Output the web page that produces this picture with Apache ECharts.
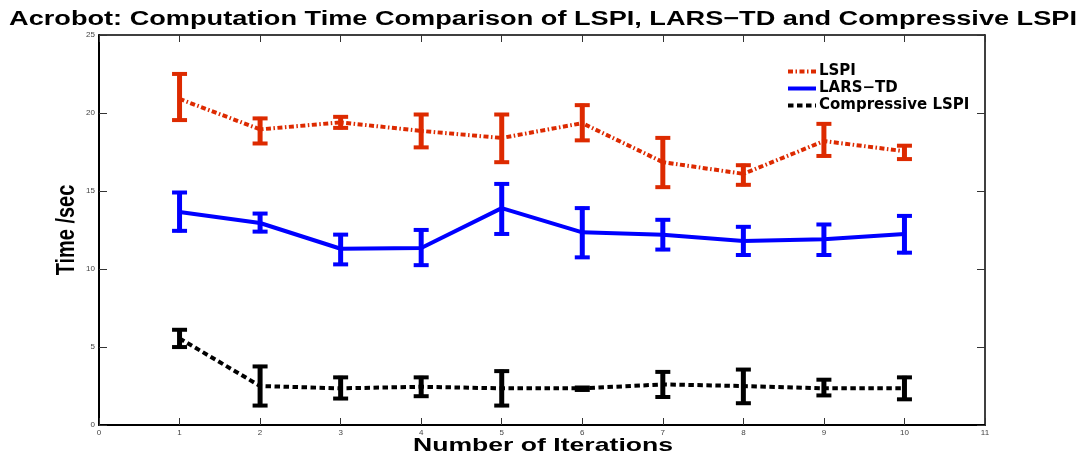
<!DOCTYPE html>
<html>
<head>
<meta charset="utf-8">
<script src="https://cdn.jsdelivr.net/npm/echarts@6/dist/echarts.min.js"></script>
<style>
  html, body { margin: 0; padding: 0; background: #fff; }
  #chart { width: 1088px; height: 460px; }
</style>
</head>
<body>
<div id="chart"></div>
<script>
// values
var iterations = [1, 2, 3, 4, 5, 6, 7, 8, 9, 10];
var xTicks = [0, 1, 2, 3, 4, 5, 6, 7, 8, 9, 10, 11];

var lspiMean = [20.9, 18.95, 19.4, 18.85, 18.4, 19.35, 16.85, 16.1, 18.2, 17.55];
var lspiLow  = [19.45, 17.95, 18.95, 17.7, 16.75, 18.15, 15.15, 15.3, 17.15, 16.95];
var lspiHigh = [22.6, 19.75, 19.85, 20.0, 20.0, 20.6, 18.5, 16.75, 19.4, 18.0];

var larsMean = [13.65, 12.95, 11.3, 11.35, 13.9, 12.35, 12.2, 11.8, 11.9, 12.25];
var larsLow  = [12.35, 12.3, 10.2, 10.15, 12.15, 10.65, 11.15, 10.8, 10.8, 10.95];
var larsHigh = [15.0, 13.65, 12.3, 12.6, 15.55, 14.0, 13.25, 12.8, 12.95, 13.5];

var cLspiMean = [5.55, 2.5, 2.35, 2.45, 2.35, 2.35, 2.6, 2.5, 2.35, 2.35];
var cLspiLow  = [4.9, 1.15, 1.6, 1.75, 1.15, 2.15, 1.7, 1.3, 1.8, 1.55];
var cLspiHigh = [6.2, 3.85, 3.15, 3.15, 3.55, 2.5, 3.5, 3.65, 3.0, 3.15];

var titleText = 'Acrobot: Computation Time Comparison of LSPI, LARS\u2212TD and Compressive LSPI';
var xName = 'Number of Iterations';
var yName = 'Time /sec';

(function () {
    var myChart = echarts.init(document.getElementById('chart'));

    function pairs(means) {
        return iterations.map(function (x, i) { return [x, means[i]]; });
    }
    function bars(lows, highs) {
        return iterations.map(function (x, i) { return [x, lows[i], highs[i]]; });
    }

    // error bar: vertical stroke plus two caps
    function renderErrorBar(params, api) {
        var x = api.value(0);
        var lo = api.coord([x, api.value(1)]);
        var hi = api.coord([x, api.value(2)]);
        var half = 7.5;
        var color = api.visual('color');
        return {
            type: 'group',
            children: [
                { type: 'line', shape: { x1: lo[0], y1: lo[1], x2: hi[0], y2: hi[1] }, style: { stroke: color, lineWidth: 5 } },
                { type: 'line', shape: { x1: lo[0] - half, y1: lo[1] - 1.5, x2: lo[0] + half, y2: lo[1] - 1.5 }, style: { stroke: color, lineWidth: 4 } },
                { type: 'line', shape: { x1: hi[0] - half, y1: hi[1] + 1.5, x2: hi[0] + half, y2: hi[1] + 1.5 }, style: { stroke: color, lineWidth: 4 } }
            ]
        };
    }

    var axisCommon = {
        type: 'value',
        axisLine: { show: true, onZero: false, lineStyle: { color: '#000', width: 2 } },
        axisTick: { show: true, inside: true, length: 7, lineStyle: { color: '#333', width: 1 } },
        splitLine: { show: false }
    };

    option = {
        animation: false,
        backgroundColor: '#fff',
        grid: { left: 99, right: 103, top: 35, bottom: 35 },
        legend: {
            orient: 'vertical',
            left: 781,
            top: 59,
            itemWidth: 28,
            itemHeight: 10,
            itemGap: 2,
            data: ['LSPI', 'LARS\u2212TD', 'Compressive LSPI'],
            // hide the circle the line legend icon adds
            itemStyle: { color: 'rgba(0,0,0,0)', borderWidth: 0, opacity: 0 },
            lineStyle: { width: 4 },
            textStyle: { fontFamily: 'DejaVu Sans', fontWeight: 'bold', fontSize: 15, color: '#000', padding: [0, 0, 0, -2] }
        },
        graphic: [
            {
                type: 'text', x: 543, y: 19, scaleX: 1.357,
                style: { text: titleText, font: 'bold 20px "Liberation Sans"', fill: '#000', textAlign: 'center', textVerticalAlign: 'middle', verticalAlign: 'middle' }
            },
            {
                type: 'text', x: 543, y: 446, scaleX: 1.4,
                style: { text: xName, font: 'bold 19px "Liberation Sans"', fill: '#000', textAlign: 'center', textVerticalAlign: 'middle', verticalAlign: 'middle' }
            },
            {
                type: 'text', x: 67, y: 230, rotation: Math.PI / 2, scaleX: 1.05, scaleY: 1.32,
                style: { text: yName, font: 'bold 19px "Liberation Sans"', fill: '#000', textAlign: 'center', textVerticalAlign: 'middle', verticalAlign: 'middle' }
            }
        ],
        xAxis: [
            Object.assign({}, axisCommon, {
                position: 'bottom', min: xTicks[0], max: xTicks[xTicks.length - 1], interval: 1,
                axisLabel: { fontSize: 8, color: '#444', margin: 4, fontFamily: 'Liberation Sans', showMinLabel: true, showMaxLabel: true }
            }),
            Object.assign({}, axisCommon, {
                position: 'top', min: xTicks[0], max: xTicks[xTicks.length - 1], interval: 1,
                axisLine: { show: true, onZero: false, lineStyle: { color: '#000', width: 1.5 } },
                axisLabel: { show: false }
            })
        ],
        yAxis: [
            Object.assign({}, axisCommon, {
                position: 'left', min: 0, max: 25, interval: 5,
                axisTick: { show: true, inside: true, length: 8, lineStyle: { color: '#333', width: 1 } },
                axisLabel: { fontSize: 8, color: '#444', margin: 4, fontFamily: 'Liberation Sans' }
            }),
            Object.assign({}, axisCommon, {
                position: 'right', min: 0, max: 25, interval: 5,
                axisLine: { show: true, onZero: false, lineStyle: { color: '#000', width: 1.5 } },
                axisTick: { show: true, inside: true, length: 8, lineStyle: { color: '#333', width: 1 } },
                axisLabel: { show: false }
            })
        ],
        series: [
            {
                name: 'LSPI', type: 'line', symbol: 'none', data: pairs(lspiMean),
                color: '#dd2a00',
                lineStyle: { color: '#dd2a00', width: 4, type: [5, 2.5, 1.5, 2.5], cap: 'butt' }
            },
            {
                name: 'LARS\u2212TD', type: 'line', symbol: 'none', data: pairs(larsMean),
                color: '#0000ff',
                lineStyle: { color: '#0000ff', width: 4, type: 'solid' }
            },
            {
                name: 'Compressive LSPI', type: 'line', symbol: 'none', data: pairs(cLspiMean),
                color: '#000',
                lineStyle: { color: '#000', width: 4, type: [5.5, 3.5], cap: 'butt' }
            },
            { name: 'LSPI err', type: 'custom', renderItem: renderErrorBar, data: bars(lspiLow, lspiHigh), color: '#dd2a00', encode: { x: 0, y: [1, 2] }, z: 3 },
            { name: 'LARS err', type: 'custom', renderItem: renderErrorBar, data: bars(larsLow, larsHigh), color: '#0000ff', encode: { x: 0, y: [1, 2] }, z: 3 },
            { name: 'CLSPI err', type: 'custom', renderItem: renderErrorBar, data: bars(cLspiLow, cLspiHigh), color: '#000', encode: { x: 0, y: [1, 2] }, z: 3 }
        ]
    };

    if (option && typeof option === 'object')
        myChart.setOption(option);
    window.addEventListener('resize', function () {
        myChart.resize();
    });
})();
</script>
</body>
</html>
